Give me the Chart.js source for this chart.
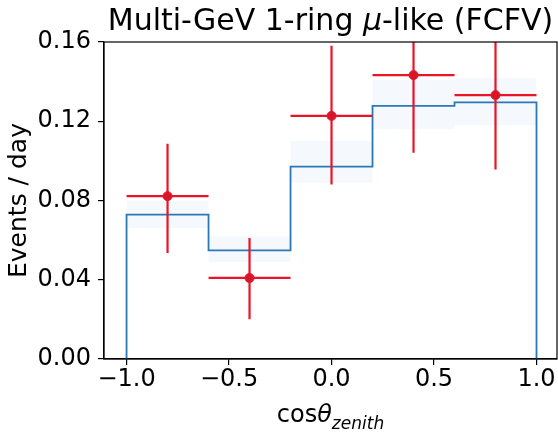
<!DOCTYPE html>
<html>
<head>
<meta charset="utf-8">
<script src="https://cdn.jsdelivr.net/npm/chart.js@4/dist/chart.umd.min.js"></script>
<style>
  html, body { margin: 0; padding: 0; background: #fff; }
  #wrap { width: 558px; height: 434px; }
</style>
</head>
<body>
<div id="wrap"><canvas id="zenithChart" width="558" height="434"></canvas></div>
<script>
// cos(zenith) bins and expected rate (events/day)
const binEdges = [-1.0, -0.6, -0.2, 0.2, 0.6, 1.0];
const mcRate   = [0.0729, 0.0548, 0.0971, 0.1278, 0.1295];
const mcBandLo = [0.066, 0.049, 0.089, 0.116, 0.118];
const mcBandHi = [0.080, 0.062, 0.110, 0.141, 0.142];

// measured rate per bin, with asymmetric errors
const dataX     = [-0.8, -0.4, 0.0, 0.4, 0.8];
const dataRate  = [0.0822, 0.0409, 0.1227, 0.1433, 0.1332];
const dataErrLo = [0.0287, 0.0208, 0.0346, 0.0392, 0.0375];
const dataErrHi = [0.0265, 0.0202, 0.0354, 0.0392, 0.0375];
const binHalf   = 0.2;

const xTicks = [-1.0, -0.5, 0.0, 0.5, 1.0];
const yTicks = [0.00, 0.04, 0.08, 0.12, 0.16];

const FONT = "'DejaVu Sans', sans-serif";
const RED = '#ea1426';
const BLUE = '#2a78b5';

function steps(vals, closed){
  const pts = closed ? [{x: binEdges[0], y: 0}] : [];
  vals.forEach((v, i) => {
    pts.push({x: binEdges[i], y: v}, {x: binEdges[i + 1], y: v});
  });
  if (closed) pts.push({x: binEdges[binEdges.length - 1], y: 0});
  return pts;
}

// error bars, drawn right after the histogram so the markers sit on top
const errorBars = {
  id: 'errorBars',
  afterDatasetDraw(chart, args){
    if (args.index !== 1) return;
    const {ctx, chartArea, scales: {x, y}} = chart;
    ctx.save();
    ctx.beginPath();
    ctx.rect(chartArea.left, chartArea.top, chartArea.right - chartArea.left, chartArea.bottom - chartArea.top);
    ctx.clip();
    ctx.strokeStyle = RED;
    ctx.lineWidth = 2.2;
    dataX.forEach((cx, i) => {
      const px = x.getPixelForValue(cx);
      const py = y.getPixelForValue(dataRate[i]);
      ctx.beginPath();
      ctx.moveTo(x.getPixelForValue(cx - binHalf), py);
      ctx.lineTo(x.getPixelForValue(cx + binHalf), py);
      ctx.moveTo(px, y.getPixelForValue(dataRate[i] - dataErrLo[i]));
      ctx.lineTo(px, y.getPixelForValue(dataRate[i] + dataErrHi[i]));
      ctx.stroke();
    });
    ctx.restore();
  }
};

// frame, title and axis labels
const decorations = {
  id: 'decorations',
  afterDraw(chart){
    const {ctx, chartArea: a} = chart;
    ctx.save();
    ctx.strokeStyle = '#000';
    ctx.lineWidth = 1.2;
    ctx.strokeRect(a.left, a.top, a.right - a.left, a.bottom - a.top);

    ctx.fillStyle = '#000';
    ctx.textBaseline = 'alphabetic';
    ctx.textAlign = 'left';
    // title with italic mu
    const parts = [
      ['Multi-GeV 1-ring ', '30px ' + FONT],
      ['\u03bc', 'italic 30px ' + FONT],
      ['-like (FCFV)', '30px ' + FONT]
    ];
    let w = 0;
    parts.forEach(p => { ctx.font = p[1]; w += ctx.measureText(p[0]).width; });
    let tx = (a.left + a.right) / 2 - w / 2;
    parts.forEach(p => {
      ctx.font = p[1];
      ctx.fillText(p[0], tx, 30);
      tx += ctx.measureText(p[0]).width;
    });

    // x label: cos theta_zenith
    const xl = [
      ['cos', '24px ' + FONT, 0],
      ['\u03b8', 'italic 24px ' + FONT, 0],
      ['zenith', 'italic 17px ' + FONT, 7]
    ];
    w = 0;
    xl.forEach(p => { ctx.font = p[1]; w += ctx.measureText(p[0]).width; });
    tx = (a.left + a.right) / 2 - w / 2;
    xl.forEach(p => {
      ctx.font = p[1];
      ctx.fillText(p[0], tx, 422 + p[2]);
      tx += ctx.measureText(p[0]).width;
    });

    // y label
    ctx.translate(26, (a.top + a.bottom) / 2);
    ctx.rotate(-Math.PI / 2);
    ctx.font = '25px ' + FONT;
    ctx.textAlign = 'center';
    ctx.fillText('Events / day', 0, 0);
    ctx.restore();
  }
};

new Chart(document.getElementById('zenithChart'), {
  type: 'scatter',
  data: {
    datasets: [
      {
        label: 'Data',
        data: dataX.map((v, i) => ({x: v, y: dataRate[i]})),
        pointRadius: 4.5,
        pointBackgroundColor: '#d8162a',
        pointBorderColor: RED,
        pointBorderWidth: 1,
        showLine: false
      },
      {
        label: 'MC',
        data: steps(mcRate, true),
        showLine: true,
        borderColor: BLUE,
        borderWidth: 1.8,
        pointRadius: 0,
        fill: false
      },
      {
        label: 'MC band hi',
        data: steps(mcBandHi, false),
        showLine: true,
        borderWidth: 0,
        borderColor: 'rgba(0,0,0,0)',
        pointRadius: 0,
        fill: false
      },
      {
        label: 'MC band lo',
        data: steps(mcBandLo, false),
        showLine: true,
        borderWidth: 0,
        borderColor: 'rgba(0,0,0,0)',
        backgroundColor: 'rgba(120,170,225,0.07)',
        pointRadius: 0,
        fill: '-1'
      }
    ]
  },
  options: {
    responsive: false,
    animation: false,
    layout: {autoPadding: false, padding: {left: 0, right: 1, top: 42, bottom: 0}},
    plugins: {legend: {display: false}, tooltip: {enabled: false}, title: {display: false}},
    scales: {
      x: {
        type: 'linear',
        min: -1.11,
        max: 1.10,
        afterBuildTicks: s => { s.ticks = xTicks.map(v => ({value: v})); },
        afterFit: s => { s.height = 75; s.paddingLeft = 0; s.paddingRight = 0; },
        grid: {drawOnChartArea: false, drawTicks: true, tickLength: 6, color: '#000', lineWidth: 1.2},
        border: {display: true, color: '#000', width: 1.2},
        ticks: {
          color: '#000',
          font: {family: FONT, size: 24},
          padding: 0,
          maxRotation: 0,
          callback: v => v.toFixed(1).replace('-', '\u2212')
        }
      },
      y: {
        min: 0,
        max: 0.16,
        afterBuildTicks: s => { s.ticks = yTicks.map(v => ({value: v})); },
        afterFit: s => { s.width = 104; s.paddingTop = 0; s.paddingBottom = 0; },
        grid: {drawOnChartArea: false, drawTicks: true, tickLength: 6, color: '#000', lineWidth: 1.2},
        border: {display: true, color: '#000', width: 1.2},
        ticks: {
          color: '#000',
          font: {family: FONT, size: 24},
          padding: 7,
          callback: v => v.toFixed(2)
        }
      }
    }
  },
  plugins: [errorBars, decorations]
});
</script>
</body>
</html>
